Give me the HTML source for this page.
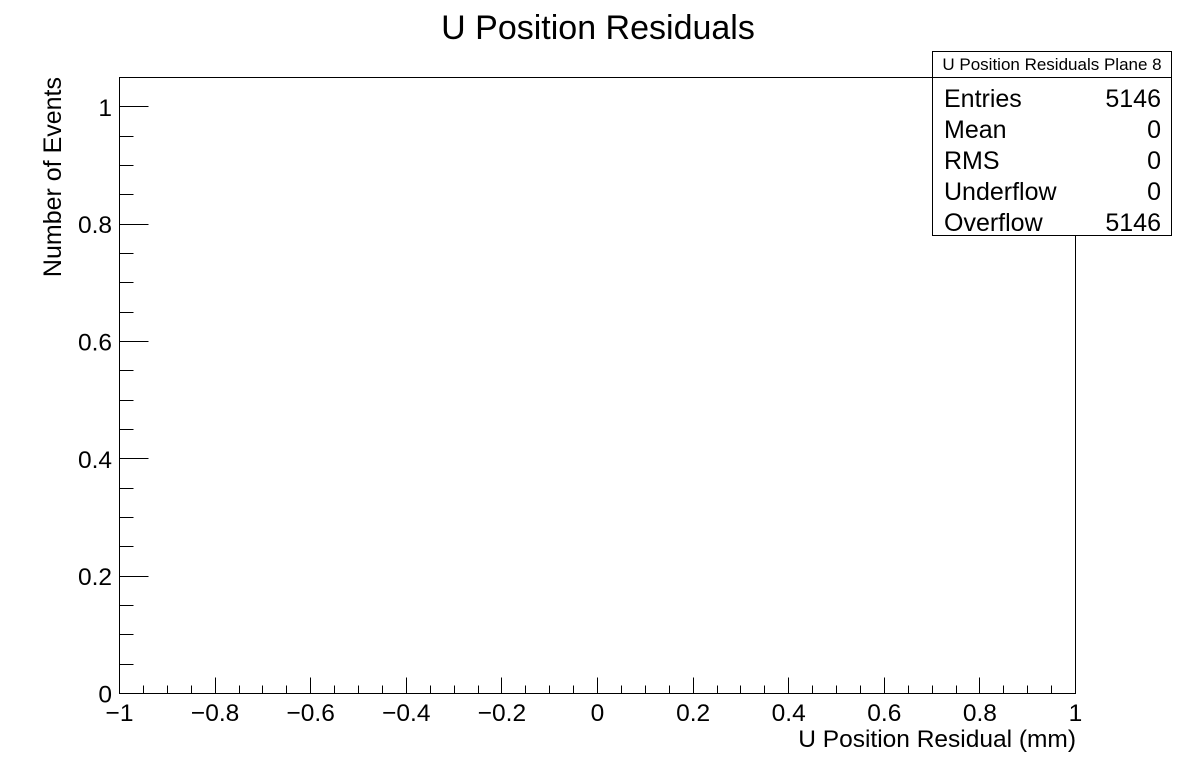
<!DOCTYPE html>
<html><head><meta charset="utf-8"><style>
body{margin:0;background:#fff}
text{font-family:"Liberation Sans",sans-serif;fill:#000}
</style></head><body>
<svg width="1196" height="772" xmlns="http://www.w3.org/2000/svg">
<rect width="1196" height="772" fill="#fff"/>
<text x="598" y="39" font-size="34" text-anchor="middle">U Position Residuals</text>
<rect x="119.5" y="77.5" width="956" height="616" fill="none" stroke="#000" stroke-width="1"/>
<g id="axes"></g>
<text x="1076" y="747" font-size="24.5" text-anchor="end">U Position Residual (mm)</text>
<text transform="translate(61,77) rotate(-90)" font-size="25" text-anchor="end">Number of Events</text>
<g>
<rect x="932.5" y="51.5" width="239" height="184" fill="#fff" stroke="#000"/>
<line x1="932.5" y1="77.5" x2="1171.5" y2="77.5" stroke="#000"/>
<text x="1052" y="70" font-size="17" text-anchor="middle">U Position Residuals Plane 8</text>
<g id="stats"></g>
</g>
</svg>
<script>
const xMin=-1,xMax=1,yMin=0,yMax=1.05;
const xTicks=[-1,-0.8,-0.6,-0.4,-0.2,0,0.2,0.4,0.6,0.8,1];
const xTickLabels=["\u22121","\u22120.8","\u22120.6","\u22120.4","\u22120.2","0","0.2","0.4","0.6","0.8","1"];
const yTicks=[0,0.2,0.4,0.6,0.8,1];
const yTickLabels=["0","0.2","0.4","0.6","0.8","1"];
const statNames=["Entries","Mean","RMS","Underflow","Overflow"];
const statValues=["5146","0","0","0","5146"];
const L=119.5,R=1075.5,T=77.5,B=693.5;
const sx=v=>L+(v-xMin)/(xMax-xMin)*(R-L);
const sy=v=>B-(v-yMin)/(yMax-yMin)*(B-T);
const NS="http://www.w3.org/2000/svg";
const g=document.getElementById('axes');
function ln(x1,y1,x2,y2,name){const l=document.createElementNS(NS,'line');
l.setAttribute('x1',x1);l.setAttribute('y1',y1);l.setAttribute('x2',x2);l.setAttribute('y2',y2);
l.setAttribute('stroke','#000');


g.appendChild(l);}
function tx(x,y,s,anchor,size,name){const t=document.createElementNS(NS,'text');
t.setAttribute('x',x);t.setAttribute('y',y);t.setAttribute('text-anchor',anchor);t.setAttribute('font-size',size);t.textContent=s;


return t;}
for(let i=1;i<40;i++){const v=xMin+i*0.05;const x=Math.round(sx(v)-0.5)+0.5;ln(x,B,x,B-(i%4==0?16:8),'x-tick');}
for(let i=1;i<=21;i++){const v=yMin+i*0.05;if(v>yMax-1e-9)break;const y=Math.round(sy(v)-0.5)+0.5;ln(L,y,L+(i%4==0?29:14),y,'y-tick');}
xTicks.forEach((v,i)=>g.appendChild(tx(sx(v),721,xTickLabels[i],'middle',24.5,'x-tick-label')));
yTicks.forEach((v,i)=>g.appendChild(tx(112,sy(v)+9,yTickLabels[i],'end',24.5,'y-tick-label')));
const st=document.getElementById('stats');
statNames.forEach((n,i)=>{const y=107+i*31;
st.appendChild(tx(944,y,n,'start',25,'stat-name'));
st.appendChild(tx(1161,y,statValues[i],'end',25,'stat-value'));});
</script>
</body></html>
